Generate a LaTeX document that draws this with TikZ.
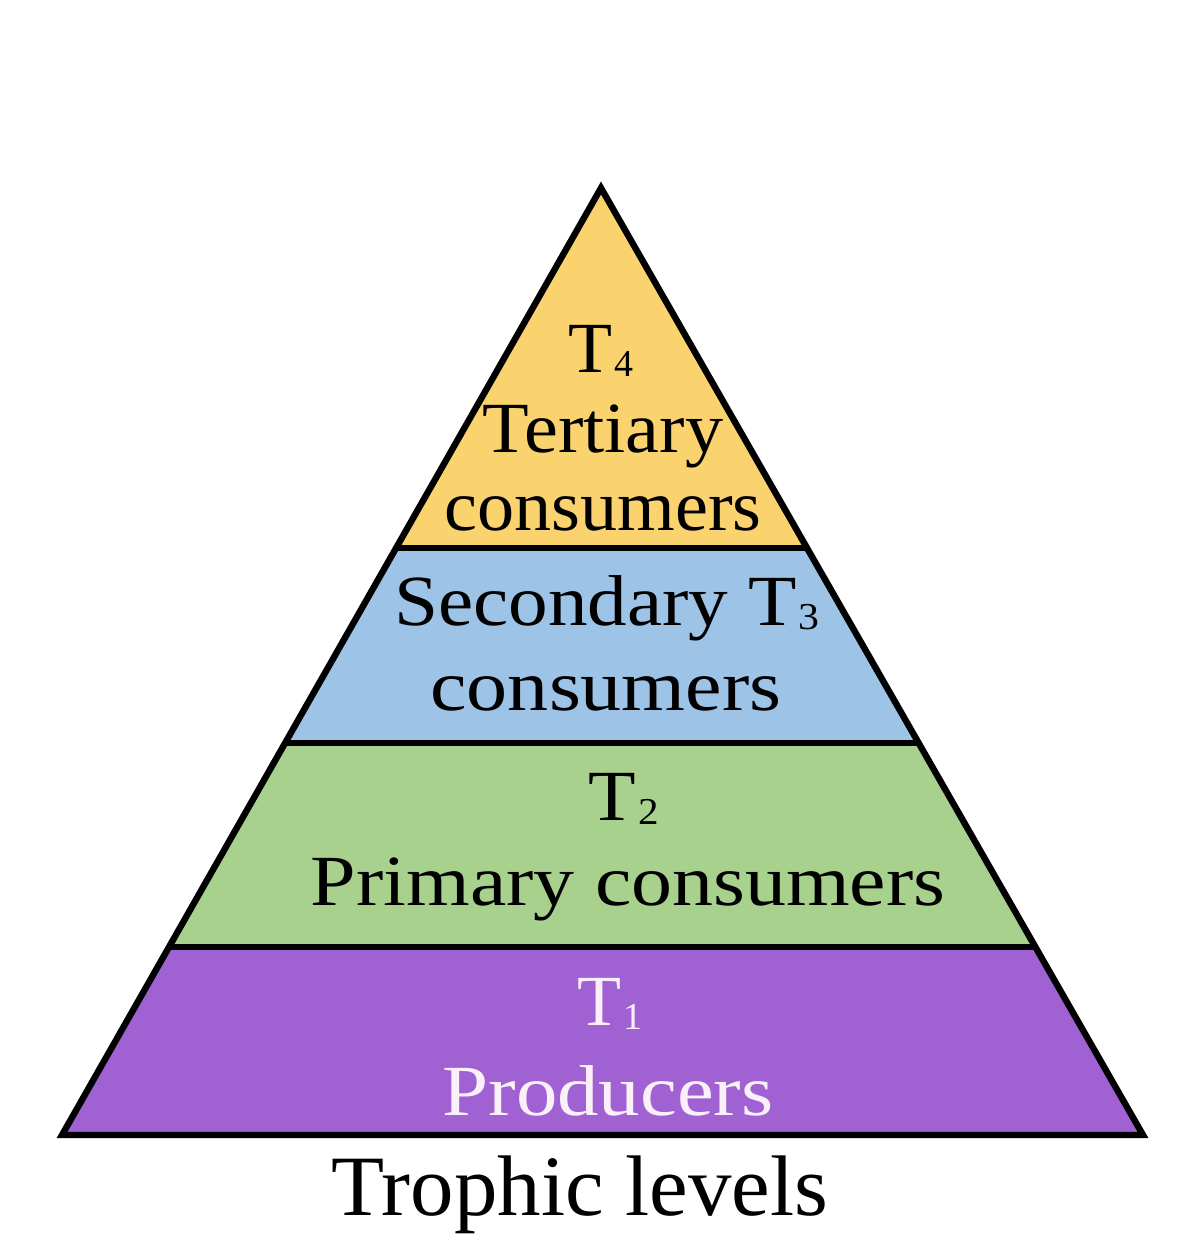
\documentclass[tikz,border=0pt]{standalone}
\usepackage{graphicx}
\usepackage{fontspec}
\setmainfont{Liberation Serif}
\usetikzlibrary{calc}

\definecolor{tertiaryfill}{HTML}{FAD26E}
\definecolor{secondaryfill}{HTML}{9DC3E6}
\definecolor{primaryfill}{HTML}{A9D18E}
\definecolor{producerfill}{HTML}{A062D2}
\definecolor{producertext}{HTML}{FBF0FA}

% T with a small lowered digit
\newcommand{\tlev}[1]{T\kern0.03em\raisebox{-2pt}{\fontsize{19}{19}\selectfont #1}}
% widen a line of text
\newcommand{\wide}[2]{\scalebox{#1}[1]{#2}}

\begin{document}
\begin{tikzpicture}[x=0.5pt,y=-0.5pt,
    tierline/.style={line width=3.2pt,line join=miter},
    tiertext/.style={font=\fontsize{36}{40}\selectfont,anchor=base,inner sep=0pt}]
\useasboundingbox (0,0) rectangle (1200,1244);

\coordinate (top) at (601,188);
\coordinate (bl) at (62,1135);
\coordinate (br) at (1143,1135);
\coordinate (l3) at ($(top)!0.380!(bl)$);
\coordinate (r3) at ($(top)!0.380!(br)$);
\coordinate (l2) at ($(top)!0.586!(bl)$);
\coordinate (r2) at ($(top)!0.586!(br)$);
\coordinate (l1) at ($(top)!0.8015!(bl)$);
\coordinate (r1) at ($(top)!0.8015!(br)$);

% layers
\fill[tertiaryfill] (top) -- (l3) -- (r3) -- cycle;
\fill[secondaryfill] (l3) -- (l2) -- (r2) -- (r3) -- cycle;
\fill[primaryfill] (l2) -- (l1) -- (r1) -- (r2) -- cycle;
\fill[producerfill] (l1) -- (bl) -- (br) -- (r1) -- cycle;

\draw[tierline] (top) -- (bl) -- (br) -- cycle;
\draw[tierline] (l3) -- (r3);
\draw[tierline] (l2) -- (r2);
\draw[tierline] (l1) -- (r1);

% T4
\node[tiertext] (t4) at (601,372) {\tlev{4}};
\node[tiertext] (t4a) at (603,452) {\wide{1.06}{Tertiary}};
\node[tiertext] (t4b) at (603,530) {\wide{1.03}{consumers}};

% T3
\node[tiertext] (t3) at (607,625) {\wide{1.10}{Secondary \tlev{3}}};
\node[tiertext] (t3a) at (606,710) {\wide{1.14}{consumers}};

% T2
\node[tiertext] (t2) at (624,820) {\wide{1.08}{\tlev{2}}};
\node[tiertext] (t2a) at (628,905) {\wide{1.137}{Primary consumers}};

% T1
\node[tiertext,text=producertext] (t1) at (610,1025) {\tlev{1}};
\node[tiertext,text=producertext] (t1a) at (608,1115) {\wide{1.15}{Producers}};

\node[tiertext,font=\fontsize{43}{46}\selectfont] (title) at (580,1215) {\wide{1.01}{Trophic levels}};
\end{tikzpicture}
\end{document}
